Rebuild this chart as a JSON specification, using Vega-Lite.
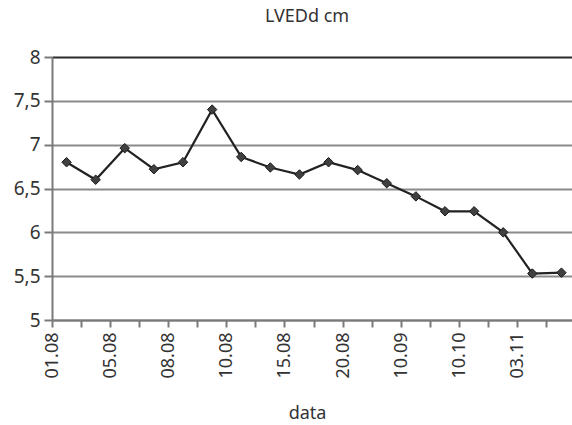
{
  "$schema": "https://vega.github.io/schema/vega-lite/v6.json",
  "width": 524,
  "height": 263,
  "autosize": "none",
  "padding": {"left": 52, "top": 57, "right": 0, "bottom": 105},
  "background": "white",
  "config": {
    "view": {"stroke": null},
    "font": "Noto Sans"
  },
  "title": {
    "text": "LVEDd cm",
    "fontSize": 18,
    "fontWeight": "normal",
    "color": "#333333",
    "offset": 22,
    "dx": -7
  },
  "data": {
    "values": [
      {"date": "01.08", "v": 6.8},
      {"date": "03.08", "v": 6.6},
      {"date": "05.08", "v": 6.96},
      {"date": "06.08", "v": 6.72},
      {"date": "08.08", "v": 6.8},
      {"date": "09.08", "v": 7.4},
      {"date": "10.08", "v": 6.86},
      {"date": "12.08", "v": 6.74},
      {"date": "15.08", "v": 6.66},
      {"date": "18.08", "v": 6.8},
      {"date": "20.08", "v": 6.71},
      {"date": "25.08", "v": 6.56},
      {"date": "10.09", "v": 6.41},
      {"date": "25.09", "v": 6.24},
      {"date": "10.10", "v": 6.24},
      {"date": "20.10", "v": 6.0},
      {"date": "03.11", "v": 5.53},
      {"date": "10.11", "v": 5.54}
    ]
  },
  "encoding": {
    "x": {
      "field": "date",
      "type": "ordinal",
      "sort": null,
      "scale": {"type": "band", "paddingInner": 0, "paddingOuter": 0},
      "axis": {
        "title": "data",
        "titleFontSize": 18,
        "titleFontWeight": "normal",
        "titleColor": "#333333",
        "titleX": 255,
        "titlePadding": 26,
        "bandPosition": 0,
        "labelAngle": -90,
        "labelFontSize": 18,
        "labelColor": "#333333",
        "labelPadding": 5,
        "labelOffset": -14,
        "labelExpr": "indexof(domain('x'), datum.value) % 2 ? '' : datum.label",
        "labelOverlap": false,
        "tickSize": 7,
        "tickWidth": 2,
        "tickColor": "#7a7a7a",
        "domainColor": "#7a7a7a",
        "domainWidth": 2,
        "grid": false
      }
    },
    "y": {
      "field": "v",
      "type": "quantitative",
      "scale": {"domain": [5, 8], "nice": false, "zero": false},
      "axis": {
        "title": null,
        "values": [5, 5.5, 6, 6.5, 7, 7.5, 8],
        "format": "~g",
        "labelExpr": "replace(datum.label, '.', ',')",
        "labelFontSize": 19,
        "labelColor": "#333333",
        "labelPadding": 4,
        "tickSize": 8,
        "tickWidth": 2,
        "tickColor": "#7a7a7a",
        "domainColor": "#7a7a7a",
        "domainWidth": 2,
        "grid": true,
        "gridColor": {"condition": {"test": "datum.value == 8", "value": "#2a2a2a"}, "value": "#8a8a8a"},
        "gridWidth": 2
      }
    }
  },
  "layer": [
    {
      "mark": {"type": "line", "color": "#222222", "strokeWidth": 2.2}
    },
    {
      "mark": {
        "type": "point",
        "shape": "diamond",
        "filled": true,
        "size": 90,
        "color": "#404040",
        "stroke": "#1a1a1a",
        "strokeWidth": 1,
        "opacity": 1
      }
    }
  ]
}
